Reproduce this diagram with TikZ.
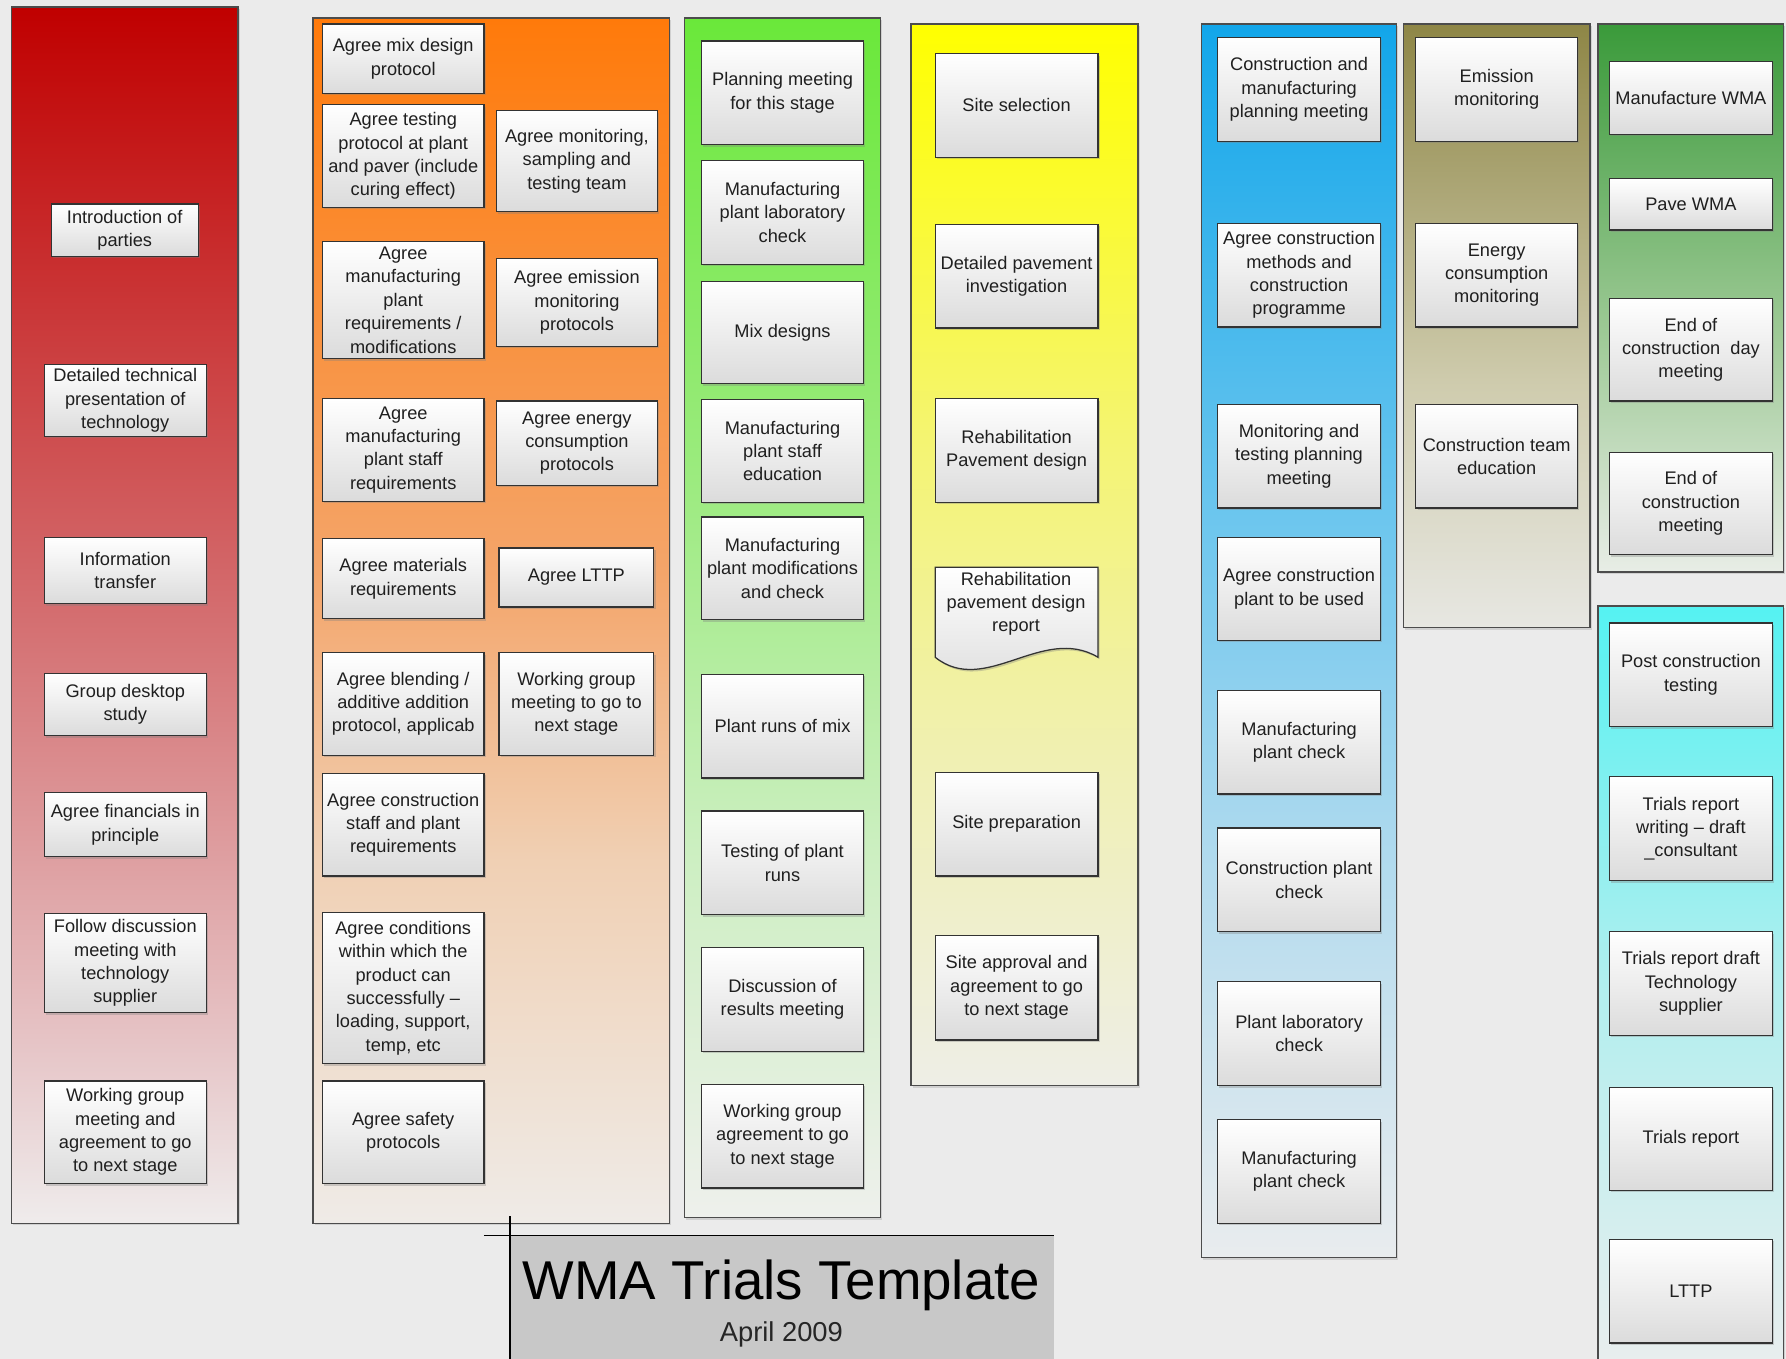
\documentclass[tikz,border=0pt]{standalone}
\usepackage{fontspec}
\setmainfont{Liberation Sans}
\usetikzlibrary{shadows}

\definecolor{bgc}{HTML}{EBEBEB}
\definecolor{r0}{HTML}{EFECEC}\definecolor{r1}{HTML}{E6C4C6}\definecolor{r2}{HTML}{D46E70}\definecolor{r3}{HTML}{C00000}
\definecolor{o0}{HTML}{EFEBE7}\definecolor{o1}{HTML}{F0D0B4}\definecolor{o2}{HTML}{F4A56A}\definecolor{o3}{HTML}{FF7A0A}
\definecolor{g0}{HTML}{EEF0EC}\definecolor{g1}{HTML}{CDEFC2}\definecolor{g2}{HTML}{9EEB82}\definecolor{g3}{HTML}{6AE83A}
\definecolor{y0}{HTML}{EEEEE6}\definecolor{y1}{HTML}{F0F0B4}\definecolor{y2}{HTML}{F4F474}\definecolor{y3}{HTML}{FFFF00}
\definecolor{b0}{HTML}{E9ECEE}\definecolor{b1}{HTML}{B6DCEE}\definecolor{b2}{HTML}{6CC6EE}\definecolor{b3}{HTML}{12A6EA}
\definecolor{v0}{HTML}{E7E7E2}\definecolor{v1}{HTML}{CFCCAE}\definecolor{v2}{HTML}{8E8646}
\definecolor{d0}{HTML}{E8EDE6}\definecolor{d1}{HTML}{9DC995}\definecolor{d2}{HTML}{3A9A3A}
\definecolor{c0}{HTML}{EAEEEE}\definecolor{c1}{HTML}{B2EEEE}\definecolor{c2}{HTML}{55F2F2}
\definecolor{titlegray}{HTML}{C8C8C8}

\pgfdeclareverticalshading{redsh}{100bp}{color(0bp)=(r0); color(25bp)=(r0); color(32.5bp)=(r1); color(50bp)=(r2); color(75bp)=(r3); color(100bp)=(r3)}
\pgfdeclareverticalshading{orangesh}{100bp}{color(0bp)=(o0); color(25bp)=(o0); color(40bp)=(o1); color(52bp)=(o2); color(75bp)=(o3); color(100bp)=(o3)}
\pgfdeclareverticalshading{greensh}{100bp}{color(0bp)=(g0); color(25bp)=(g0); color(40bp)=(g1); color(55bp)=(g2); color(75bp)=(g3); color(100bp)=(g3)}
\pgfdeclareverticalshading{yellowsh}{100bp}{color(0bp)=(y0); color(25bp)=(y0); color(40bp)=(y1); color(55bp)=(y2); color(75bp)=(y3); color(100bp)=(y3)}
\pgfdeclareverticalshading{bluesh}{100bp}{color(0bp)=(b0); color(25bp)=(b0); color(40bp)=(b1); color(55bp)=(b2); color(75bp)=(b3); color(100bp)=(b3)}
\pgfdeclareverticalshading{olivesh}{100bp}{color(0bp)=(v0); color(25bp)=(v0); color(45bp)=(v1); color(75bp)=(v2); color(100bp)=(v2)}
\pgfdeclareverticalshading{dgreensh}{100bp}{color(0bp)=(d0); color(25bp)=(d0); color(47bp)=(d1); color(75bp)=(d2); color(100bp)=(d2)}
\pgfdeclareverticalshading{cyansh}{100bp}{color(0bp)=(c0); color(25bp)=(c0); color(50bp)=(c1); color(75bp)=(c2); color(100bp)=(c2)}

\tikzset{
  bx/.style={draw=black!80, line width=1.1pt, top color=white, bottom color=black!14,
    inner sep=0pt, align=center, text=black!88,
    font=\fontsize{16}{20.5}\selectfont,
    drop shadow={shadow xshift=1.5pt, shadow yshift=-1.8pt, opacity=.35}},
  colm/.style={draw=black!70, line width=1.3pt, inner sep=0pt,
    drop shadow={shadow xshift=1.5pt, shadow yshift=-1.8pt, opacity=.25}},
  txt/.style={inner sep=0pt, align=center, text=black!88, font=\fontsize{16}{20.5}\selectfont},
}

\newcommand\place[7]{%
  \pgfmathsetmacro\cx{(#3+#5)/2}%
  \pgfmathsetmacro\cy{(#4+#6)/2}%
  \pgfmathsetmacro\ww{#5-#3}%
  \pgfmathsetmacro\hh{#6-#4}%
  \node[#1, minimum width=\ww pt, minimum height=\hh pt] (#2) at (\cx,\cy) {#7};}

\begin{document}
\begin{tikzpicture}[x=1pt,y=-1pt]
\useasboundingbox (0,0) rectangle (1568,1193);
\fill[bgc] (0,0) rectangle (1568,1193);

% columns
\place{colm,shading=redsh}{colR}{10}{6}{209}{1074}{}
\place{colm,shading=orangesh}{colO}{275}{16}{588}{1074}{}
\place{colm,shading=greensh}{colG}{601}{16}{773}{1069}{}
\place{colm,shading=yellowsh}{colY}{800}{21}{999}{953}{}
\place{colm,shading=bluesh}{colB}{1055}{21}{1226}{1104}{}
\place{colm,shading=olivesh}{colV}{1232}{21}{1396}{551}{}
\place{colm,shading=dgreensh}{colD}{1403}{21}{1566}{502}{}
\place{colm,shading=cyansh}{colC}{1403}{532}{1566}{1205}{}

% red column
\place{bx}{r1}{45}{179}{174}{225}{Introduction of\\parties}
\place{bx}{r2}{39}{320}{181}{383}{Detailed technical\\presentation of\\technology}
\place{bx}{r3}{39}{472}{181}{530}{Information\\transfer}
\place{bx}{r4}{39}{591}{181}{646}{Group desktop\\study}
\place{bx}{r5}{39}{696}{181}{752}{Agree financials in\\principle}
\place{bx}{r6}{39}{802}{181}{889}{Follow discussion\\meeting with\\technology\\supplier}
\place{bx}{r7}{39}{949}{181}{1039}{Working group\\meeting and\\agreement to go\\to next stage}

% orange column, left
\place{bx}{o1}{283}{21}{425}{82}{Agree mix design\\protocol}
\place{bx}{o2}{283}{92}{425}{182}{Agree testing\\protocol at plant\\and paver (include\\curing effect)}
\place{bx}{o3}{283}{212}{425}{315}{Agree\\manufacturing\\plant\\requirements /\\modifications}
\place{bx}{o4}{283}{350}{425}{440}{Agree\\manufacturing\\plant staff\\requirements}
\place{bx}{o5}{283}{473}{425}{543}{Agree materials\\requirements}
\place{bx}{o6}{283}{573}{425}{663}{Agree blending /\\additive addition\\protocol, applicab}
\place{bx}{o7}{283}{679}{425}{769}{Agree construction\\staff and plant\\requirements}
\place{bx}{o8}{283}{801}{425}{934}{Agree conditions\\within which the\\product can\\successfully –\\loading, support,\\temp, etc}
\place{bx}{o9}{283}{949}{425}{1039}{Agree safety\\protocols}
% orange column, right
\place{bx}{o10}{436}{97}{577}{186}{Agree monitoring,\\sampling and\\testing team}
\place{bx}{o11}{436}{227}{577}{304}{Agree emission\\monitoring\\protocols}
\place{bx}{o12}{436}{352}{577}{426}{Agree energy\\consumption\\protocols}
\place{bx}{o13}{438}{481}{574}{533}{Agree LTTP}
\place{bx}{o14}{438}{573}{574}{663}{Working group\\meeting to go to\\next stage}

% light green column
\place{bx}{g1}{616}{36}{758}{127}{Planning meeting\\for this stage}
\place{bx}{g2}{616}{141}{758}{232}{Manufacturing\\plant laboratory\\check}
\place{bx}{g3}{616}{247}{758}{337}{Mix designs}
\place{bx}{g4}{616}{351}{758}{441}{Manufacturing\\plant staff\\education}
\place{bx}{g5}{616}{454}{758}{544}{Manufacturing\\plant modifications\\and check}
\place{bx}{g6}{616}{592}{758}{683}{Plant runs of mix}
\place{bx}{g7}{616}{712}{758}{803}{Testing of plant\\runs}
\place{bx}{g8}{616}{832}{758}{923}{Discussion of\\results meeting}
\place{bx}{g9}{616}{952}{758}{1043}{Working group\\agreement to go\\to next stage}

% yellow column
\place{bx}{y1}{821}{47}{964}{138}{Site selection}
\place{bx}{y2}{821}{197}{964}{288}{Detailed pavement\\investigation}
\place{bx}{y3}{821}{350}{964}{441}{Rehabilitation\\Pavement design}
\path[draw=black!80, line width=1.1pt, top color=white, bottom color=black!14,
  drop shadow={shadow xshift=1.5pt, shadow yshift=-1.8pt, opacity=.35}]
  (821,498) -- (964,498) -- (964,577)
  .. controls (915,548) and (865,612) .. (821,577) -- cycle;
\node[txt] (y4) at (892,530) {Rehabilitation\\pavement design\\report};
\place{bx}{y5}{821}{678}{964}{769}{Site preparation}
\place{bx}{y6}{821}{821}{964}{913}{Site approval and\\agreement to go\\to next stage}

% blue column
\place{bx}{b1}{1069}{33}{1212}{124}{Construction and\\manufacturing\\planning meeting}
\place{bx}{b2}{1069}{196}{1212}{287}{Agree construction\\methods and\\construction\\programme}
\place{bx}{b3}{1069}{355}{1212}{446}{Monitoring and\\testing planning\\meeting}
\place{bx}{b4}{1069}{472}{1212}{562}{Agree construction\\plant to be used}
\place{bx}{b5}{1069}{606}{1212}{697}{Manufacturing\\plant check}
\place{bx}{b6}{1069}{727}{1212}{818}{Construction plant\\check}
\place{bx}{b7}{1069}{862}{1212}{953}{Plant laboratory\\check}
\place{bx}{b8}{1069}{983}{1212}{1074}{Manufacturing\\plant check}

% olive column
\place{bx}{v1}{1243}{33}{1385}{124}{Emission\\monitoring}
\place{bx}{v2}{1243}{196}{1385}{287}{Energy\\consumption\\monitoring}
\place{bx}{v3}{1243}{355}{1385}{446}{Construction team\\education}

% dark green column
\place{bx}{d1}{1413}{54}{1556}{118}{Manufacture WMA}
\place{bx}{d2}{1413}{157}{1556}{202}{Pave WMA}
\place{bx}{d3}{1413}{262}{1556}{352}{End of\\construction\ \ day\\meeting}
\place{bx}{d4}{1413}{397}{1556}{487}{End of\\construction\\meeting}

% cyan column
\place{bx}{c1}{1413}{547}{1556}{638}{Post construction\\testing}
\place{bx}{c2}{1413}{682}{1556}{773}{Trials report\\writing – draft\\\_consultant}
\place{bx}{c3}{1413}{818}{1556}{909}{Trials report draft\\Technology\\supplier}
\place{bx}{c4}{1413}{955}{1556}{1045}{Trials report}
\place{bx}{c5}{1413}{1088}{1556}{1179}{LTTP}

% title
\place{fill=titlegray,inner sep=0pt}{tbox}{448}{1085}{925}{1200}{}
\draw[line width=1.3pt] ([xshift=-23pt]tbox.north west) -- (tbox.north east);
\draw[line width=1.3pt] ([yshift=17pt]tbox.north west) -- (tbox.south west);
\node[anchor=base, inner sep=0pt, font=\fontsize{48}{50}\selectfont] (title) at (686,1141) {WMA Trials Template};
\node[anchor=base, inner sep=0pt, font=\fontsize{24}{26}\selectfont, text=black!85] (date) at (686,1178) {April 2009};
\end{tikzpicture}
\end{document}
